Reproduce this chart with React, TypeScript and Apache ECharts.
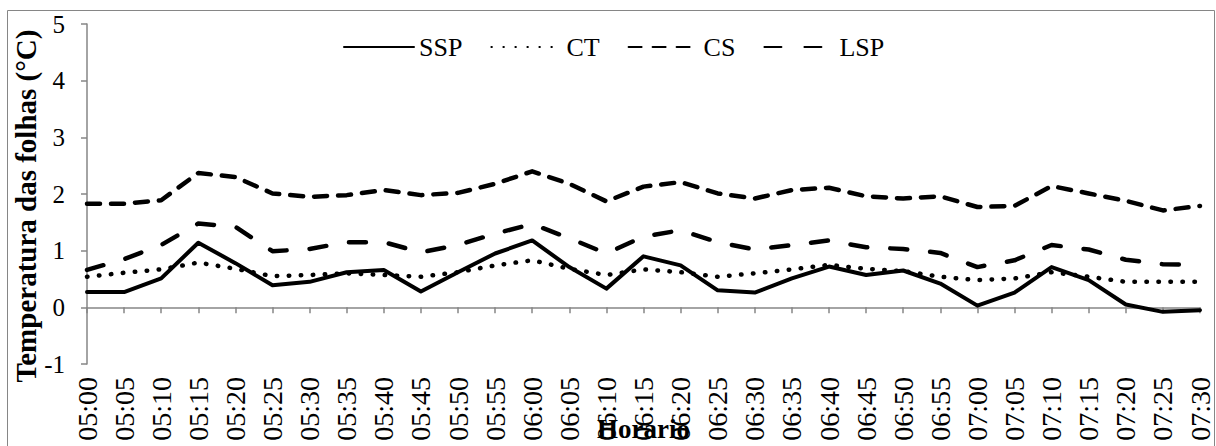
import React, { useEffect, useRef } from "react";
import * as echarts from "echarts";

const categories = [
  "05:00", "05:05", "05:10", "05:15", "05:20", "05:25", "05:30", "05:35",
  "05:40", "05:45", "05:50", "05:55", "06:00", "06:05", "06:10", "06:15",
  "06:20", "06:25", "06:30", "06:35", "06:40", "06:45", "06:50", "06:55",
  "07:00", "07:05", "07:10", "07:15", "07:20", "07:25", "07:30",
];

const ssp = [
  0.27, 0.27, 0.51, 1.14, 0.78, 0.39, 0.45, 0.62, 0.66, 0.28, 0.62, 0.95,
  1.18, 0.71, 0.33, 0.9, 0.74, 0.3, 0.26, 0.51, 0.72, 0.57, 0.65, 0.42,
  0.03, 0.26, 0.71, 0.48, 0.05, -0.08, -0.05,
];
const ct = [
  0.54, 0.61, 0.67, 0.79, 0.68, 0.55, 0.57, 0.6, 0.57, 0.54, 0.62, 0.74,
  0.83, 0.68, 0.57, 0.67, 0.62, 0.54, 0.6, 0.67, 0.75, 0.68, 0.64, 0.54,
  0.48, 0.51, 0.62, 0.54, 0.45, 0.45, 0.45,
];
const cs = [
  1.83, 1.83, 1.89, 2.37, 2.3, 2.01, 1.95, 1.98, 2.07, 1.98, 2.02, 2.18,
  2.4, 2.18, 1.87, 2.13, 2.21, 2.01, 1.92, 2.07, 2.11, 1.96, 1.92, 1.96,
  1.77, 1.79, 2.14, 2.01, 1.88, 1.71, 1.79,
];
const lsp = [
  0.66, 0.85, 1.1, 1.48, 1.42, 0.99, 1.03, 1.15, 1.15, 0.97, 1.1, 1.3,
  1.47, 1.22, 0.95, 1.25, 1.36, 1.15, 1.02, 1.1, 1.18, 1.06, 1.03, 0.96,
  0.71, 0.83, 1.1, 1.02, 0.84, 0.76, 0.75,
];

const FONT = "'Liberation Serif', 'Times New Roman', serif";
const AXIS_GRAY = "#868686";

export default function App() {
  const ref = useRef<HTMLDivElement>(null);

  useEffect(() => {
    if (!ref.current) return;
    const chart = echarts.init(ref.current, undefined, { renderer: "svg" });

    const lineSeries = (name: string, data: number[], type: any, width: number) => ({
      name,
      type: "line",
      data,
      symbol: "none",
      lineStyle: { color: "#000", width, type, cap: "round", join: "round" },
      itemStyle: { color: "#000" },
    });

    chart.setOption({
      animation: false,
      backgroundColor: "#fff",
      textStyle: { fontFamily: FONT, color: "#000" },
      graphic: [
        {
          type: "rect",
          shape: { x: 7.5, y: 10.5, width: 1207, height: 460 },
          style: { fill: "none", stroke: AXIS_GRAY, lineWidth: 1 },
          silent: true,
        },
        {
          // vertical axis title
          type: "text",
          x: 26,
          y: 206,
          rotation: Math.PI / 2,
          style: {
            text: "Temperatura das folhas (°C)",
            fontFamily: FONT,
            fontSize: 29,
            fontWeight: "bold",
            fill: "#000",
            align: "center",
            verticalAlign: "middle",
          },
          silent: true,
        },
      ],
      legend: {
        top: 29,
        left: 338,
        itemWidth: 70,
        itemHeight: 14,
        itemGap: 28,
        itemStyle: { opacity: 0 },
        textStyle: { fontFamily: FONT, fontSize: 26, color: "#000" },
        data: ["SSP", "CT", "CS", "LSP"],
      },
      grid: {
        left: 87,
        right: 16,
        top: 24,
        bottom: 82,
        containLabel: false,
        outerBoundsMode: "none",
      },
      xAxis: {
        type: "category",
        data: categories,
        boundaryGap: false,
        name: "Horario",
        nameLocation: "middle",
        nameGap: 51,
        nameMoveOverlap: false,
        nameTextStyle: { fontFamily: FONT, fontSize: 27, fontWeight: "bold", color: "#000" },
        axisLine: { lineStyle: { color: AXIS_GRAY, width: 1.5 } },
        axisTick: { alignWithLabel: true, length: 6, lineStyle: { color: AXIS_GRAY, width: 1.5 } },
        axisLabel: {
          rotate: 90,
          interval: 0,
          margin: 13,
          fontFamily: FONT,
          fontSize: 28,
          color: "#000",
        },
        splitLine: { show: false },
      },
      yAxis: {
        type: "value",
        min: -1,
        max: 5,
        interval: 1,
        axisLine: { show: true, lineStyle: { color: AXIS_GRAY, width: 1.5 } },
        axisTick: { show: true, length: 6, lineStyle: { color: AXIS_GRAY, width: 1.5 } },
        axisLabel: { margin: 22, fontFamily: FONT, fontSize: 25, color: "#000" },
        splitLine: { show: false },
      },
      series: [
        lineSeries("SSP", ssp, "solid", 4),
        lineSeries("CT", ct, [0.5, 11.5], 4.5),
        lineSeries("CS", cs, [13, 11], 4.5),
        lineSeries("LSP", lsp, [17, 23], 4.5),
      ],
    });

    return () => chart.dispose();
  }, []);

  return (
    <div
      ref={ref}
      style={{ position: "fixed", left: 0, top: 0, width: 1216, height: 446 }}
    />
  );
}
